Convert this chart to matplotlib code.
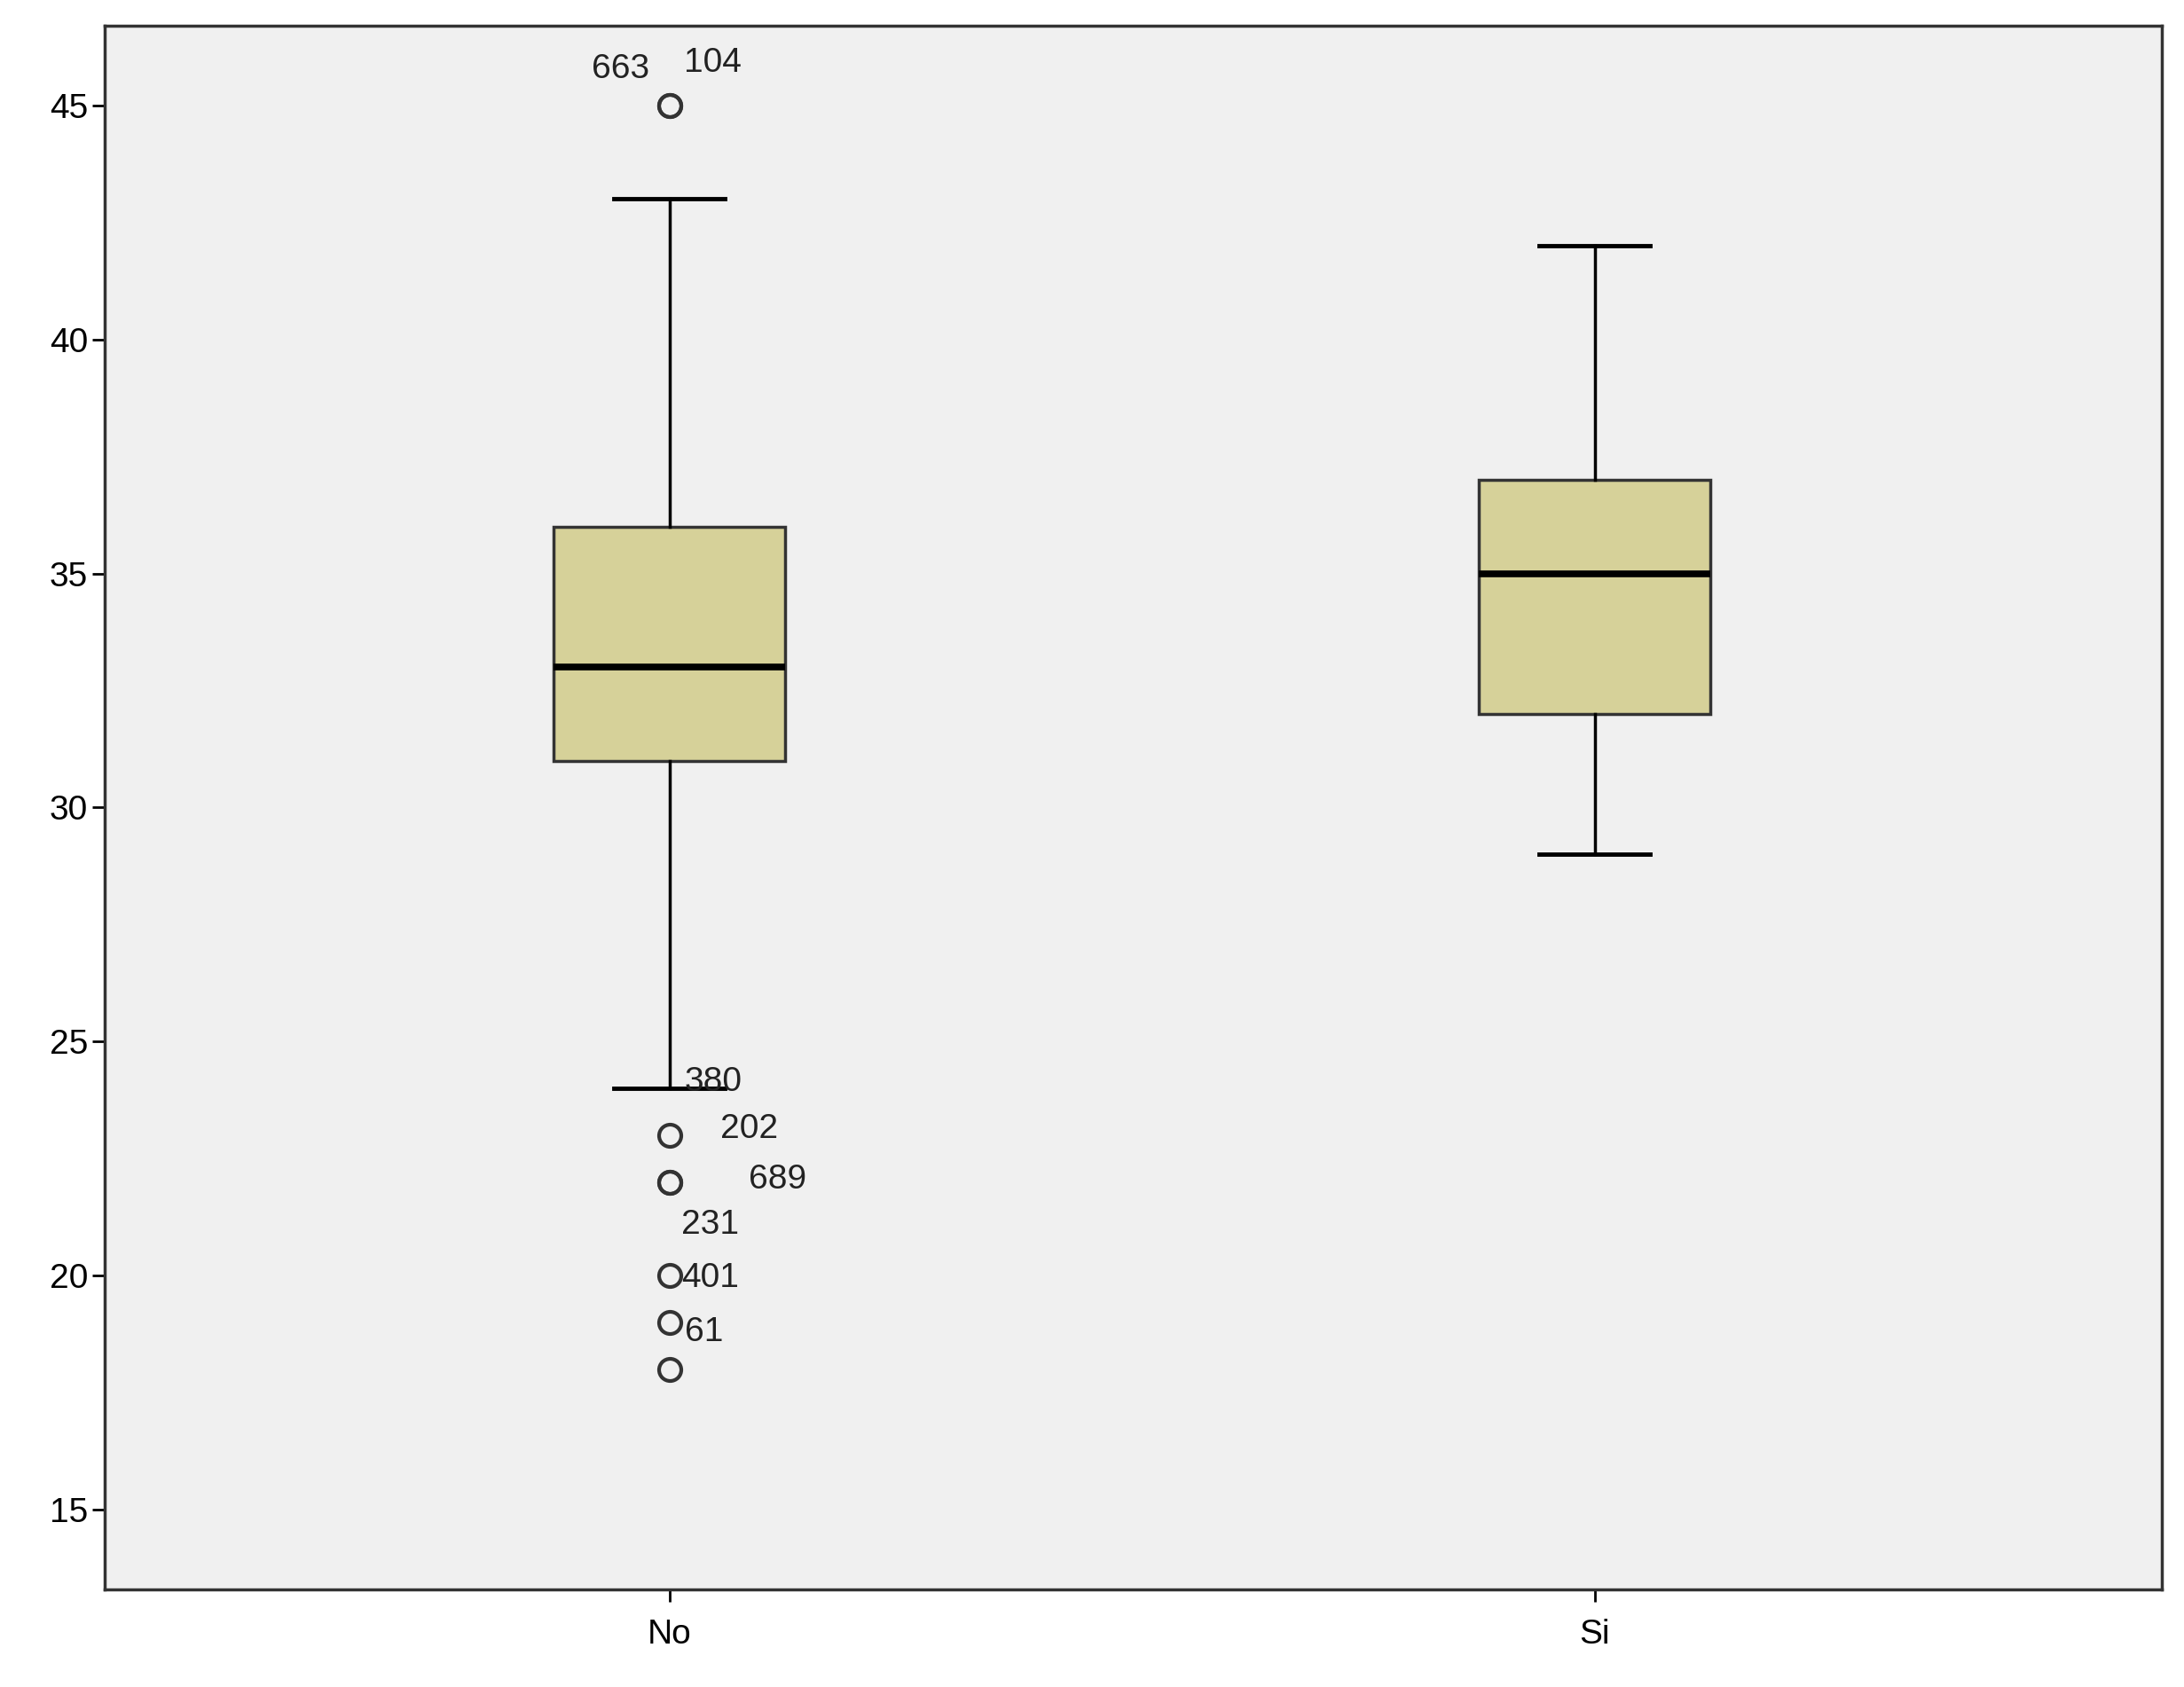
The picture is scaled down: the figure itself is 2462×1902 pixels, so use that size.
import matplotlib
matplotlib.use("Agg")
import matplotlib.pyplot as plt

plt.rcParams['font.family'] = ['Liberation Sans', 'DejaVu Sans']

categories = ["No", "Si"]
q1 = [31, 32]
med = [33, 35]
q3 = [36, 37]
whislo = [24, 29]
whishi = [43, 42]
fliers_no = [45, 45, 23, 22, 22, 20, 19, 18]
fliers_si = []
label_texts = ["663", "104", "380", "202", "689", "231", "401", "61"]
label_x = [0.947, 1.047, 1.047, 1.086, 1.117, 1.044, 1.044, 1.037]
label_y = [45.77, 45.9, 24.14, 23.13, 22.06, 21.08, 19.95, 18.8]

fig = plt.figure(figsize=(24.62, 19.02), dpi=100)
ax = fig.add_axes([0.0478, 0.0578, 0.942, 0.927])
ax.set_facecolor("#f0f0f0")

stats = []
fl = [fliers_no, fliers_si]
for i, c in enumerate(categories):
    stats.append(dict(label=c, q1=q1[i], med=med[i], q3=q3[i],
                      whislo=whislo[i], whishi=whishi[i], fliers=fl[i]))

ax.bxp(stats, positions=[1, 2], widths=0.25, patch_artist=True,
       boxprops=dict(facecolor="#d6d199", edgecolor="#333333", linewidth=2.5),
       medianprops=dict(color="black", linewidth=5.5),
       whiskerprops=dict(color="black", linewidth=2.5),
       capprops=dict(color="black", linewidth=3.5), capwidths=0.12,
       flierprops=dict(marker="o", markerfacecolor="none", markeredgecolor="#333333",
                       markersize=18, markeredgewidth=3))

for t, x, y in zip(label_texts, label_x, label_y):
    ax.text(x, y, t, ha="center", va="center", fontsize=28, color="#222222")

ax.set_xlim(0.389, 2.613)
ax.set_ylim(13.3, 46.7)
ax.set_yticks([15, 20, 25, 30, 35, 40, 45])
ax.tick_params(axis="both", labelsize=28, length=10, width=2)
ax.tick_params(axis="x", pad=14)
for s in ax.spines.values():
    s.set_linewidth(2.5)
    s.set_color("#333333")

fig.savefig("out.png", dpi=100)
